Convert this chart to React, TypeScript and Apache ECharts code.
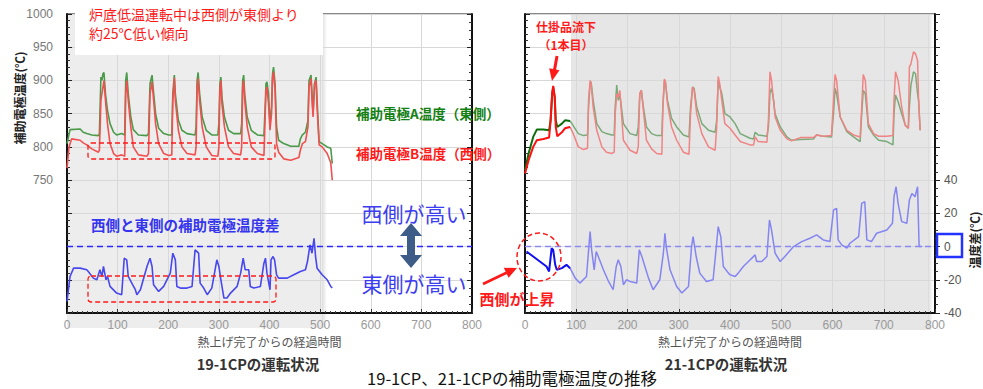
import React, { useEffect, useRef } from "react";
import * as echarts from "echarts";

type P = [number, number];

// ---- X axis ticks (elapsed time after heat-up) ----
const xTicks = [0, 100, 200, 300, 400, 500, 600, 700, 800];

// ---- 19-1CP (left panel) ----
const leftEastA: P[] = [[0,805],[6,826],[26,827],[32,822],[39,820],[49,818],[62,817],[64,820],[67,905],[69,900],[71,910],[73,912],[76,880],[80,855],[85,835],[92,822],[98,818],[108,820],[114,818],[116,900],[118,912],[121,880],[126,845],[131,826],[141,818],[158,817],[161,820],[164,895],[168,908],[170,890],[175,850],[181,828],[191,820],[201,818],[207,818],[209,880],[212,908],[214,880],[220,840],[227,825],[237,820],[253,818],[255,830],[257,900],[259,912],[262,880],[267,845],[275,825],[286,818],[298,818],[300,835],[302,895],[304,905],[306,875],[311,845],[319,825],[329,820],[343,820],[345,835],[347,900],[349,908],[351,880],[356,845],[364,825],[376,818],[389,817],[392,870],[393,895],[395,898],[398,880],[401,835],[404,860],[406,910],[408,920],[411,895],[414,830],[418,810],[428,805],[442,801],[458,801],[461,812],[465,818],[471,822],[476,840],[478,900],[482,908],[484,880],[486,850],[489,895],[492,905],[494,870],[498,808],[504,805],[514,800],[521,798],[524,775]];
const leftWestB: P[] = [[0,768],[4,800],[9,812],[26,810],[32,806],[39,803],[49,797],[62,792],[64,795],[67,870],[69,880],[71,890],[73,900],[76,870],[80,835],[85,805],[92,790],[98,786],[108,788],[114,786],[116,880],[118,900],[121,870],[126,830],[131,800],[141,788],[158,786],[161,790],[164,880],[168,898],[170,880],[175,835],[181,805],[191,790],[201,787],[207,788],[209,870],[212,904],[214,870],[220,825],[227,800],[237,790],[253,788],[255,800],[257,890],[259,903],[262,870],[267,830],[275,800],[286,787],[298,786],[300,800],[302,885],[304,900],[306,865],[311,830],[319,800],[329,790],[343,788],[345,800],[347,890],[349,900],[351,870],[356,830],[364,800],[376,790],[389,787],[392,860],[393,885],[395,890],[398,865],[401,825],[404,850],[406,905],[408,913],[411,885],[414,805],[418,792],[428,782],[442,780],[458,784],[461,795],[465,805],[471,808],[476,830],[478,890],[482,903],[484,870],[486,845],[489,895],[492,900],[494,860],[498,803],[504,800],[514,790],[521,776],[524,750]];
const leftDiff: P[] = [[0,-33],[6,-18],[13,-13],[26,-13],[39,-14],[42,-15],[52,-19],[59,-20],[65,-14],[69,-18],[72,-12],[77,-20],[80,-18],[85,-24],[98,-28],[108,-29],[113,-7],[118,-8],[121,-18],[128,-22],[135,-26],[138,-29],[145,-26],[158,-12],[164,-7],[168,-12],[171,-23],[181,-27],[191,-24],[204,-16],[209,-4],[214,-8],[217,-24],[224,-25],[237,-25],[247,-24],[253,-2],[260,-4],[263,-22],[270,-25],[277,-29],[286,-25],[296,-8],[300,-12],[304,-20],[310,-31],[316,-31],[323,-28],[336,-24],[343,-16],[348,-7],[352,-14],[359,-14],[362,-24],[369,-25],[382,-24],[389,-10],[392,-7],[395,-16],[401,-26],[403,-8],[407,-6],[410,-8],[414,-17],[418,-19],[435,-19],[448,-17],[461,-15],[471,-14],[475,-9],[480,1],[484,-4],[488,5],[491,-6],[494,-13],[504,-17],[514,-20],[521,-24],[524,-25]];

// ---- 21-1CP (right panel) ----
const rightEastA: P[] = [[0,765],[7,790],[16,815],[23,826],[36,826],[47,825],[50,840],[53,880],[55,890],[58,875],[60,840],[63,830],[72,835],[78,840],[88,839],[94,832],[104,820],[114,817],[122,818],[124,860],[127,895],[129,898],[133,870],[140,835],[150,823],[159,820],[169,818],[174,818],[176,860],[179,893],[182,870],[185,880],[192,835],[205,820],[218,817],[221,830],[224,880],[227,885],[231,860],[237,830],[247,820],[257,817],[267,817],[269,860],[272,900],[274,898],[278,870],[286,843],[296,830],[309,818],[320,815],[323,860],[327,890],[330,888],[335,860],[345,835],[358,825],[371,822],[374,840],[377,900],[380,890],[384,880],[390,850],[400,845],[410,835],[420,820],[439,813],[446,812],[449,822],[455,818],[472,816],[475,830],[478,882],[481,888],[485,870],[488,850],[498,830],[511,815],[520,810],[537,811],[563,812],[569,818],[582,816],[598,815],[602,850],[605,888],[608,880],[615,845],[628,823],[641,815],[654,808],[657,850],[660,885],[664,880],[670,830],[680,818],[690,810],[706,808],[718,803],[720,850],[723,878],[728,868],[735,850],[742,833],[748,828],[750,860],[753,893],[758,913],[762,910],[766,880],[768,870],[771,825]];
const rightWestB: P[] = [[0,760],[7,780],[16,800],[23,810],[36,812],[47,814],[50,840],[53,880],[55,892],[58,875],[60,830],[63,816],[72,822],[78,828],[88,830],[94,820],[104,800],[114,796],[122,798],[124,870],[127,900],[129,895],[133,860],[140,825],[150,800],[159,792],[169,790],[174,792],[176,850],[179,880],[182,875],[185,885],[192,810],[205,795],[218,790],[221,800],[224,880],[227,885],[231,855],[237,810],[247,797],[257,790],[267,789],[269,860],[272,902],[274,898],[278,865],[286,830],[296,810],[309,792],[320,789],[323,850],[327,890],[330,885],[335,850],[345,820],[358,800],[371,795],[374,830],[377,906],[380,895],[384,870],[390,835],[400,828],[410,818],[420,808],[439,803],[446,803],[449,815],[455,808],[472,807],[475,840],[478,913],[481,900],[485,870],[488,845],[498,825],[511,812],[520,809],[537,814],[563,814],[569,818],[582,816],[598,817],[602,870],[605,909],[608,900],[615,845],[628,825],[641,818],[654,815],[657,860],[660,909],[664,900],[670,835],[680,820],[690,816],[706,816],[718,817],[720,870],[723,913],[728,900],[735,860],[742,832],[748,828],[750,920],[753,925],[758,943],[762,940],[766,930],[768,870],[771,825]];
const rightDiff: P[] = [[3,-3],[16,-6],[29,-9],[42,-12],[47,-15],[52,-1],[55,-2],[59,-11],[62,-14],[72,-13],[81,-11],[88,-13],[98,-19],[107,-22],[120,-18],[127,9],[130,-2],[135,-14],[139,-3],[143,-6],[153,-14],[163,-21],[172,-26],[178,-12],[182,-8],[187,-12],[192,-23],[198,-20],[205,-21],[218,-22],[223,-2],[228,-6],[234,-12],[241,-19],[250,-26],[263,-20],[270,-4],[273,8],[276,-1],[283,-14],[296,-24],[306,-28],[319,-24],[325,0],[328,6],[334,-6],[341,-16],[354,-21],[367,-20],[374,2],[377,12],[382,6],[387,-12],[397,-16],[400,-17],[410,-18],[416,-16],[426,-12],[436,-9],[449,-5],[452,-9],[462,-9],[472,-6],[477,16],[481,10],[488,-4],[498,-9],[507,-6],[524,0],[540,3],[556,5],[569,7],[582,4],[595,3],[602,22],[608,23],[611,4],[618,1],[628,-1],[634,2],[651,6],[657,26],[663,27],[667,4],[676,3],[686,8],[706,10],[717,14],[720,30],[724,36],[728,26],[735,15],[745,14],[750,28],[755,32],[761,30],[766,36],[769,0],[775,0]];

// boundary between the un-shaded and shaded part of the right panel
const RIGHT_SHADE_START = 88;

const JP = '"Noto Sans CJK JP", "Noto Sans", sans-serif';
const NUM = '"Liberation Sans", Arial, sans-serif';

function splitAt(d: P[], cut: number): [P[], P[]] {
  return [d.filter((p) => p[0] <= cut), d.filter((p) => p[0] >= cut)];
}

function lineSeries(data: P[], xi: number, yi: number, color: string, width: number, z: number, extra: any = {}) {
  return {
    type: "line",
    data,
    xAxisIndex: xi,
    yAxisIndex: yi,
    showSymbol: false,
    symbol: "none",
    silent: true,
    lineStyle: { color, width },
    itemStyle: { color },
    z,
    ...extra,
  };
}

export default function App() {
  const ref = useRef<HTMLDivElement>(null);

  useEffect(() => {
    document.body.style.margin = "0";
    const chart = echarts.init(ref.current!, undefined, { renderer: "svg" });

    const xAxisBase = (gi: number) => ({
      gridIndex: gi,
      type: "value",
      min: 0,
      max: 800,
      interval: 100,
      name: "熱上げ完了からの経過時間",
      nameLocation: "middle",
      nameGap: 20,
      nameTextStyle: { color: "#555", fontSize: 12, fontFamily: JP },
      axisLine: { show: true, onZero: false, lineStyle: { color: "#111", width: 2 } },
      axisTick: { show: true, inside: true, length: 4, lineStyle: { color: "#333" } },
      minorTick: { show: true, splitNumber: 10, length: 2, lineStyle: { color: "#444" } },
      axisLabel: {
        color: "#999",
        fontSize: 12,
        fontFamily: NUM,
        margin: 6,
        formatter: (v: number) => (xTicks.includes(v) ? String(v) : ""),
      },
      splitLine: { show: true, lineStyle: { color: "#d8d8d8", width: 1 } },
    });

    const tempAxis = (gi: number, showLabels: boolean) => ({
      gridIndex: gi,
      type: "value",
      position: "left",
      min: 550,
      max: 1000,
      interval: 50,
      axisLine: { show: true, lineStyle: { color: "#111", width: 2 } },
      axisTick: { show: true, inside: true, length: 5, lineStyle: { color: "#222" } },
      minorTick: { show: true, splitNumber: 5, length: 3, lineStyle: { color: "#333" } },
      axisLabel: {
        show: showLabels,
        color: "#777",
        fontSize: 12,
        fontFamily: NUM,
        margin: 14,
        formatter: (v: number) => (v >= 750 ? String(v) : ""),
      },
      splitLine: { show: true, lineStyle: { color: "#d8d8d8", width: 1 } },
    });

    const diffAxis = (gi: number, showLabels: boolean) => ({
      gridIndex: gi,
      type: "value",
      position: "right",
      min: -40,
      max: 140,
      interval: 20,
      axisLine: { show: true, lineStyle: { color: "#111", width: 2 } },
      axisTick: { show: true, inside: !showLabels, length: 5, lineStyle: { color: "#222" } },
      minorTick: { show: true, splitNumber: 4, length: 3, lineStyle: { color: "#333" } },
      axisLabel: {
        show: showLabels,
        color: "#555",
        fontSize: 12,
        fontFamily: NUM,
        margin: 9,
        formatter: (v: number) => (v <= 40 ? String(v) : ""),
      },
      splitLine: { show: false },
    });

    const [rA0, rA1] = splitAt(rightEastA, RIGHT_SHADE_START);
    const [rB0, rB1] = splitAt(rightWestB, RIGHT_SHADE_START);
    const [rD0, rD1] = splitAt(rightDiff, RIGHT_SHADE_START);

    const zeroLine = (color: string) => ({
      markLine: {
        silent: true,
        symbol: "none",
        label: { show: false },
        lineStyle: { color, type: [6, 4], width: 1.3 },
        data: [{ yAxis: 0 }],
      },
    });

    const red = "#ff1a1a";
    const blueTxt = "#3535ee";

    const graphic: any[] = [
      // shaded screenshot regions
      { type: "rect", z: -10, shape: { x: 67, y: 14, width: 255, height: 314 }, style: { fill: "#ededed" } },
      { type: "rect", z: -10, shape: { x: 322, y: 14, width: 5, height: 314 }, style: { fill: new echarts.graphic.LinearGradient(0, 0, 1, 0, [{ offset: 0, color: "#dedede" }, { offset: 1, color: "#ffffff" }]) } },
      { type: "rect", z: -10, shape: { x: 571, y: 14, width: 357, height: 316 }, style: { fill: "#e6e6e6" } },
      { type: "rect", z: -10, shape: { x: 928, y: 14, width: 5, height: 316 }, style: { fill: new echarts.graphic.LinearGradient(0, 0, 1, 0, [{ offset: 0, color: "#dadada" }, { offset: 1, color: "#ffffff" }]) } },
      // note box (left top)
      { type: "rect", z: 50, shape: { x: 75, y: 3, width: 248, height: 52 }, style: { fill: "#ffffff" } },
      { type: "text", z: 51, x: 89, y: 14, style: { text: "炉底低温運転中は西側が東側より", fill: red, fontSize: 14, fontFamily: JP, verticalAlign: "middle" } },
      { type: "text", z: 51, x: 89, y: 33, style: { text: "約25℃低い傾向", fill: red, fontSize: 14, fontFamily: JP, verticalAlign: "middle" } },
      // red dashed boxes
      { type: "rect", z: 40, shape: { x: 88, y: 143, width: 187, height: 16, r: 3 }, style: { fill: "none", stroke: red, lineWidth: 1.3, lineDash: [5, 3] } },
      { type: "rect", z: 40, shape: { x: 88, y: 276, width: 188, height: 26, r: 3 }, style: { fill: "none", stroke: red, lineWidth: 1.3, lineDash: [5, 3] } },
      // series labels
      { type: "text", z: 51, x: 356, y: 113, style: { text: "補助電極A温度（東側）", fill: "#138013", fontSize: 13.5, fontWeight: "bold", fontFamily: JP, verticalAlign: "middle" } },
      { type: "text", z: 51, x: 356, y: 153, style: { text: "補助電極B温度（西側）", fill: red, fontSize: 13.5, fontWeight: "bold", fontFamily: JP, verticalAlign: "middle" } },
      { type: "text", z: 51, x: 91, y: 224, style: { text: "西側と東側の補助電極温度差", fill: blueTxt, fontSize: 14.5, fontWeight: "bold", fontFamily: JP, verticalAlign: "middle" } },
      { type: "text", z: 51, x: 414, y: 213, style: { text: "西側が高い", fill: "#3d3df0", fontSize: 21, fontFamily: JP, align: "center", verticalAlign: "middle" } },
      { type: "text", z: 51, x: 414, y: 283, style: { text: "東側が高い", fill: "#3d3df0", fontSize: 21, fontFamily: JP, align: "center", verticalAlign: "middle" } },
      // double arrow
      { type: "polygon", z: 45, shape: { points: [[411, 223], [422, 236], [415, 236], [415, 255], [422, 255], [411, 268], [400, 255], [407, 255], [407, 236], [400, 236]] }, style: { fill: "#3d5c88" } },
      // right panel annotations
      { type: "text", z: 51, x: 566, y: 26, style: { text: "仕掛品流下", fill: red, fontSize: 12, fontWeight: "bold", fontFamily: JP, align: "center", verticalAlign: "middle" } },
      { type: "text", z: 51, x: 566, y: 44, style: { text: "（1本目）", fill: red, fontSize: 12, fontWeight: "bold", fontFamily: JP, align: "center", verticalAlign: "middle" } },
      { type: "line", z: 51, shape: { x1: 557, y1: 56, x2: 554.5, y2: 70 }, style: { stroke: red, lineWidth: 3 } },
      { type: "polygon", z: 51, shape: { points: [[552, 81], [559.5, 70.2], [549.2, 68.3]] }, style: { fill: red } },
      { type: "ellipse", z: 51, shape: { cx: 539, cy: 257, rx: 22, ry: 24 }, style: { fill: "none", stroke: red, lineWidth: 1.5, lineDash: [5, 3] } },
      { type: "line", z: 51, shape: { x1: 483, y1: 284, x2: 507, y2: 272.5 }, style: { stroke: red, lineWidth: 2.5 } },
      { type: "polygon", z: 51, shape: { points: [[517, 268], [508.6, 277.8], [503.8, 267.8]] }, style: { fill: red } },
      { type: "text", z: 51, x: 517, y: 298, style: { text: "西側が上昇", fill: red, fontSize: 15, fontWeight: "bold", fontFamily: JP, align: "center", verticalAlign: "middle" } },
      // highlighted 0 label on the right axis
      { type: "rect", z: 51, shape: { x: 937, y: 234, width: 25, height: 23 }, style: { fill: "none", stroke: "#2233ff", lineWidth: 2.5 } },
      // axis names
      { type: "text", z: 51, x: 19, y: 98, rotation: Math.PI / 2, style: { text: "補助電極温度(℃)", fill: "#222", fontSize: 12, fontWeight: "bold", fontFamily: JP, align: "center", verticalAlign: "middle" } },
      { type: "text", z: 51, x: 974, y: 240, rotation: Math.PI / 2, style: { text: "温度差(℃)", fill: "#222", fontSize: 12, fontWeight: "bold", fontFamily: JP, align: "center", verticalAlign: "middle" } },
      // panel captions and title
      { type: "text", z: 51, x: 258, y: 363, style: { text: "19-1CPの運転状況", fill: "#333", fontSize: 14.5, fontWeight: "bold", fontFamily: JP, align: "center", verticalAlign: "middle" } },
      { type: "text", z: 51, x: 726, y: 363, style: { text: "21-1CPの運転状況", fill: "#333", fontSize: 14.5, fontWeight: "bold", fontFamily: JP, align: "center", verticalAlign: "middle" } },
      { type: "text", z: 51, x: 512, y: 378, style: { text: "19-1CP、21-1CPの補助電極温度の推移", fill: "#111", fontSize: 16.5, fontFamily: JP, align: "center", verticalAlign: "middle" } },
    ];

    chart.setOption({
      animation: false,
      backgroundColor: "#ffffff",
      textStyle: { fontFamily: JP },
      grid: [
        { left: 67, top: 14, width: 405, height: 299, show: true, borderColor: "#111", borderWidth: 1, backgroundColor: "transparent" },
        { left: 525, top: 14, width: 410, height: 299, show: true, borderColor: "#111", borderWidth: 1, backgroundColor: "transparent" },
      ],
      xAxis: [xAxisBase(0), xAxisBase(1)],
      yAxis: [tempAxis(0, true), diffAxis(0, false), tempAxis(1, false), diffAxis(1, true)],
      series: [
        lineSeries(leftEastA, 0, 0, "#4a9a4a", 1.6, 3),
        lineSeries(leftWestB, 0, 0, "#f05050", 1.6, 4),
        lineSeries(leftDiff, 0, 1, "#4848ee", 1.6, 4, zeroLine("#2a2aff")),
        lineSeries(rA1, 1, 2, "#7aaa7a", 1.5, 3),
        lineSeries(rB1, 1, 2, "#f08484", 1.5, 4),
        lineSeries(rD1, 1, 3, "#8585f2", 1.5, 4, zeroLine("#8a8af2")),
        lineSeries(rA0, 1, 2, "#0b6e0b", 2, 5),
        lineSeries(rB0, 1, 2, "#ff0f0f", 2, 6),
        lineSeries(rD0, 1, 3, "#1010f0", 2, 6),
      ],
      graphic,
    });

    return () => chart.dispose();
  }, []);

  return <div ref={ref} style={{ position: "fixed", left: 0, top: 0, width: 983, height: 389 }} />;
}
